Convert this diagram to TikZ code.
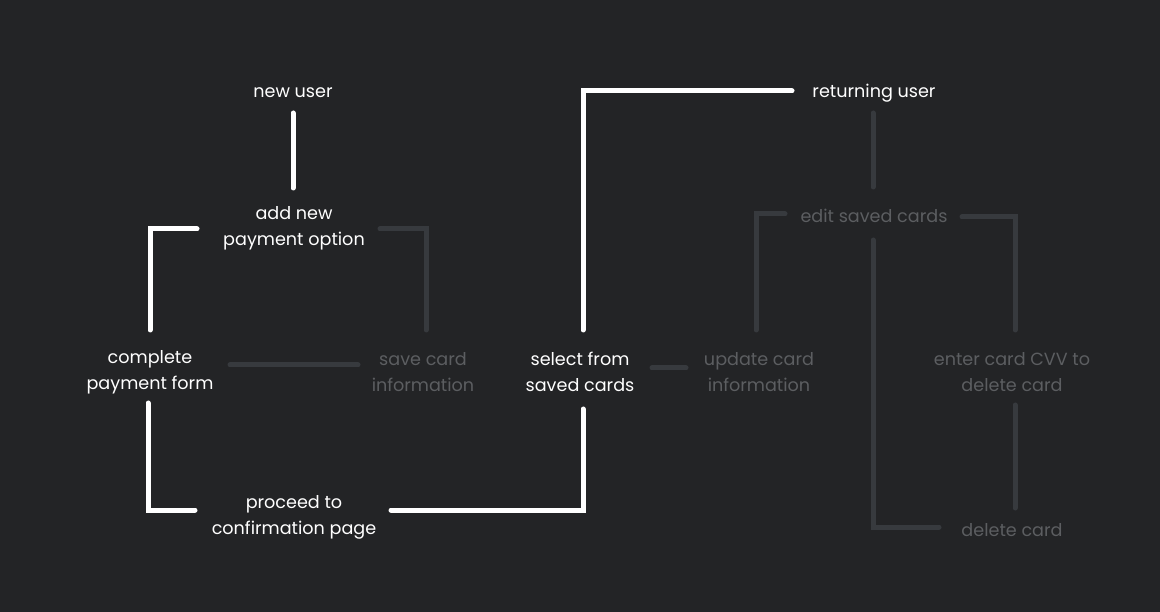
\documentclass[tikz,border=0pt]{standalone}
\usepackage{fontspec}
\setmainfont{Poppins}
\usetikzlibrary{calc}
\definecolor{bg}{HTML}{232426}
\definecolor{gline}{HTML}{373A3E}
\definecolor{gtext}{HTML}{5C5E61}
\tikzset{
  lbl/.style={align=center, inner sep=0pt, yshift=-2pt, font=\fontsize{17.6}{26}\selectfont},
  on/.style={lbl, text=white},
  off/.style={lbl, text=gtext},
  wl/.style={draw=white, line width=5pt, line cap=round, line join=miter},
  gl/.style={draw=gline, line width=5pt, line cap=round, line join=miter},
}
\begin{document}
\begin{tikzpicture}[x=1pt,y=-1pt]
\fill[bg] (0,0) rectangle (1160,612);
\useasboundingbox (0,0) rectangle (1160,612);
\node[on] (newuser) at (293,91) {new user};
\node[on] (addnew) at (294,226) {add new\\payment option};
\node[on] (returning) at (874,91) {returning user};
\node[off] (edit) at (874,214) {edit saved cards};
\node[on] (complete) at (150,370) {complete\\payment form};
\node[off] (save) at (423,370) {save card\\information};
\node[on] (select) at (580,370) {select from\\saved cards};
\node[off] (update) at (759,370) {update card\\information};
\node[off] (cvv) at (1012,370) {enter card CVV to\\delete card};
\node[on] (proceed) at (294,515) {proceed to\\confirmation page};
\node[off] (delete) at (1012,528) {delete card};
% grey connectors
\draw[gl] ($(returning)+(-1,20)$) -- ($(edit)+(-1,-29)$);
\draw[gl] ($(addnew)+(86,1)$) -| ($(save)+(3,-42)$);
\draw[gl] ($(complete)+(80,-7)$) -- ($(save)+(-65,-7)$);
\draw[gl] ($(select)+(72,-4)$) -- ($(update)+(-73,-4)$);
\draw[gl] ($(edit)+(-89,-2)$) -| ($(update)+(-3,-42)$);
\draw[gl] ($(edit)+(88,1)$) -| ($(cvv)+(3,-42)$);
\draw[gl] ($(edit)+(-1,24)$) |- ($(delete)+(-73,-3)$);
\draw[gl] ($(cvv)+(3,33)$) -- ($(delete)+(3,-22)$);
% white connectors
\draw[wl] ($(newuser)+(0,20)$) -- ($(addnew)+(-1,-40)$);
\draw[wl] ($(addnew)+(-97,1)$) -| ($(complete)+(0,-42)$);
\draw[wl] ($(complete)+(-2,31)$) |- ($(proceed)+(-99,-7)$);
\draw[wl] ($(proceed)+(97,-7)$) -| ($(select)+(3,37)$);
\draw[wl] ($(select)+(3,-42)$) |- ($(returning)+(-82,-2)$);
\end{tikzpicture}
\end{document}
